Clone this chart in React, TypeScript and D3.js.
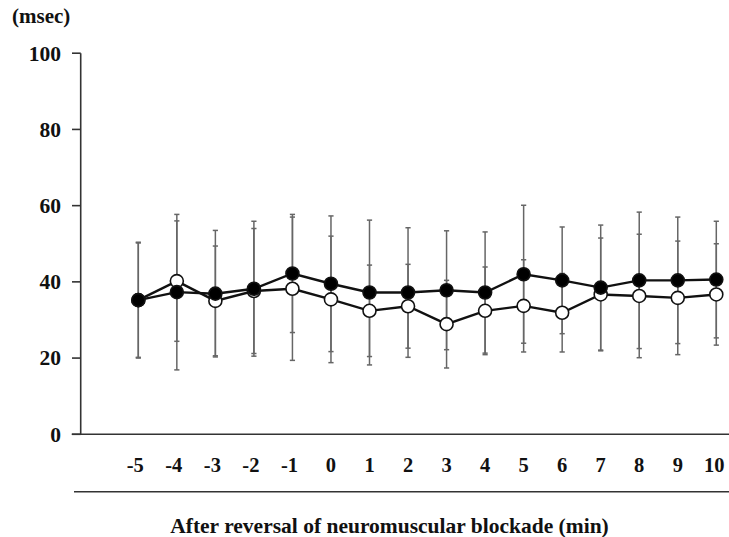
import React from "react";
import * as d3 from "d3";

const times = [-5, -4, -3, -2, -1, 0, 1, 2, 3, 4, 5, 6, 7, 8, 9, 10];
const filledMean = [35.2, 37.3, 36.9, 38.2, 42.2, 39.5, 37.2, 37.2, 37.8, 37.2, 42.0, 40.4, 38.5, 40.4, 40.4, 40.6];
const filledSd = [15.2, 20.4, 16.6, 17.7, 15.5, 17.8, 19.0, 17.0, 15.6, 15.9, 18.1, 14.0, 16.4, 17.9, 16.6, 15.3];
const openMean = [35.2, 40.2, 35.0, 37.6, 38.2, 35.4, 32.4, 33.6, 28.9, 32.4, 33.7, 31.9, 36.7, 36.3, 35.8, 36.7];
const openSd = [15.0, 15.8, 14.4, 16.4, 18.8, 16.6, 12.0, 11.0, 11.5, 11.5, 12.1, 10.3, 14.8, 16.2, 14.9, 13.3];
const yTicks = [0, 20, 40, 60, 80, 100];
const yUnit = "(msec)";
const xTitle = "After reversal of neuromuscular blockade (min)";

const W = 729;
const H = 537;
const FONT = "'Liberation Serif', 'Times New Roman', serif";

export default function App() {
  const x = d3.scaleLinear().domain([-5, 10]).range([138.3, 716.3]);
  const y = d3.scaleLinear().domain([0, 100]).range([434.3, 53.2]);
  const line = d3
    .line<[number, number]>()
    .x((d) => x(d[0]))
    .y((d) => y(d[1]));

  const series = [
    { mean: openMean, sd: openSd, fill: "#fff" },
    { mean: filledMean, sd: filledSd, fill: "#000" },
  ];
  const axisX = 80.7;
  const capW = 2.6;

  return (
    <svg
      width={W}
      height={H}
      style={{ position: "absolute", left: 0, top: 0, background: "#fff" }}
      fontFamily={FONT}
      fontWeight="bold"
    >
      <rect width={W} height={H} fill="#fff" />
      {/* y unit */}
      <text x={12} y={22.5} fontSize={21} fill="#111">
        {yUnit}
      </text>
      {/* y axis */}
      <line x1={axisX} x2={axisX} y1={y(100)} y2={y(0)} stroke="#333" strokeWidth={1.6} />
      {yTicks.map((t) => (
        <g key={t}>
          <line x1={72} x2={axisX} y1={y(t)} y2={y(t)} stroke="#333" strokeWidth={1.6} />
          <text x={61} y={y(t)} dy="0.34em" textAnchor="end" fontSize={21.5} fill="#111">
            {t}
          </text>
        </g>
      ))}
      {/* x axis */}
      <line x1={71.7} x2={W} y1={y(0)} y2={y(0)} stroke="#333" strokeWidth={1.6} />
      {times.map((t) => (
        <text
          key={t}
          x={x(t) - (t < 0 ? 3 : 0) - (t === 10 ? 2 : 0)}
          y={471.5}
          textAnchor="middle"
          fontSize={20.5}
          fill="#111"
        >
          {t}
        </text>
      ))}
      <line x1={74} x2={W} y1={491.7} y2={491.7} stroke="#333" strokeWidth={1.6} />
      <text x={389.5} y={533} textAnchor="middle" fontSize={21.5} fill="#111">
        {xTitle}
      </text>
      {/* error bars */}
      {series.map((s, si) =>
        times.map((t, i) => {
          const cx = x(t);
          const hi = y(s.mean[i] + s.sd[i]);
          const lo = y(s.mean[i] - s.sd[i]);
          return (
            <g key={`e${si}-${i}`} stroke="#666" strokeWidth={1.5}>
              <line x1={cx} x2={cx} y1={hi} y2={lo} />
              <line x1={cx - capW} x2={cx + capW} y1={hi} y2={hi} />
              <line x1={cx - capW} x2={cx + capW} y1={lo} y2={lo} />
            </g>
          );
        })
      )}
      {/* lines */}
      {series.map((s, si) => (
        <path
          key={`l${si}`}
          d={line(times.map((t, i) => [t, s.mean[i]] as [number, number])) || ""}
          fill="none"
          stroke="#111"
          strokeWidth={2.4}
        />
      ))}
      {/* markers */}
      {series.map((s, si) =>
        times.map((t, i) => (
          <circle
            key={`m${si}-${i}`}
            cx={x(t)}
            cy={y(s.mean[i])}
            r={6.5}
            fill={s.fill}
            stroke="#111"
            strokeWidth={1.6}
          />
        ))
      )}
    </svg>
  );
}
